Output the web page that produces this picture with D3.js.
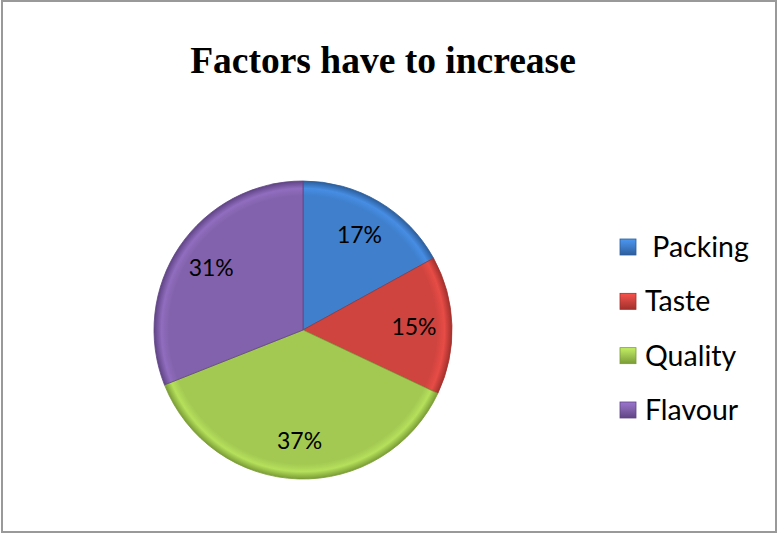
<html>
<head>
<meta charset='UTF-8'>
<script src="https://d3js.org/d3.v7.min.js"></script>
<style>
  body { margin: 0; background: #fff; }
</style>
</head>
<body>
<svg id="chart" width="778" height="535"></svg>
<script>
// chart data
const categories = ['Packing', 'Taste', 'Quality', 'Flavour'];
const values = [17, 15, 37, 31];
const legendLabels = [' Packing', 'Taste', 'Quality', 'Flavour'];
const colors = ['#3f7fcc', '#d0443f', '#a3c952', '#8262ac'];
const darkColors = ['#2c5e9c', '#a2302c', '#7a9c35', '#5f4485'];

const svg = d3.select('svg#chart');

// outer frame
svg.append('rect')
  .attr('x', 2).attr('y', 1).attr('width', 774).attr('height', 531)
  .style('fill', '#fff').style('stroke', '#999').style('stroke-width', 2);

// title
svg.append('text')
  .attr('x', 383).attr('y', 73)
  .attr('text-anchor', 'middle')
  .style('font-family', '"Liberation Serif", "Times New Roman", serif')
  .style('font-weight', 'bold')
  .style('font-size', '37.5px')
  .text('Factors have to increase');

// gradients for the bevelled look
const cx = 303, cy = 330, radius = 149;
const defs = svg.append('defs');
colors.forEach((c, i) => {
  let g = defs.append('radialGradient')
    .attr('id', 'grad' + i)
    .attr('gradientUnits', 'userSpaceOnUse')
    .attr('cx', 0).attr('cy', 0).attr('r', radius);
  g.append('stop').attr('offset', '0%').attr('stop-color', c);
  g.append('stop').attr('offset', '90%').attr('stop-color', c);
  g.append('stop').attr('offset', '95%').attr('stop-color', d3.color(c).brighter(0.3));
  g.append('stop').attr('offset', '100%').attr('stop-color', darkColors[i]);

  let lg = defs.append('linearGradient')
    .attr('id', 'leg' + i)
    .attr('x1', 0).attr('y1', 0).attr('x2', 0).attr('y2', 1);
  lg.append('stop').attr('offset', '0%').attr('stop-color', d3.color(c).brighter(0.5));
  lg.append('stop').attr('offset', '45%').attr('stop-color', c);
  lg.append('stop').attr('offset', '100%').attr('stop-color', darkColors[i]);
});

// pie
const pie = d3.pie().sort(null).value(d => d)(values);
const arc = d3.arc().innerRadius(0).outerRadius(radius);
const labelArc = d3.arc().innerRadius(111).outerRadius(111);

let g = svg.append('g').attr('transform', `translate(${cx},${cy})`);

g.selectAll('path')
  .data(pie)
  .join('path')
  .attr('d', arc)
  .style('fill', (d, i) => `url(#grad${i})`)
  .style('stroke', (d, i) => darkColors[i])
  .style('stroke-width', 0.8);

g.selectAll('text')
  .data(pie)
  .join('text')
  .attr('transform', d => `translate(${labelArc.centroid(d)})`)
  .attr('text-anchor', 'middle')
  .attr('dy', '0.35em')
  .style('font-family', 'Lato, "Open Sans", sans-serif')
  .style('font-size', '23px')
  .text(d => d.data + '%');

// legend
const legendY = d3.scalePoint().domain(categories).range([247, 410]);
let lg = svg.append('g');
categories.forEach((c, i) => {
  let y = legendY(c);
  lg.append('rect')
    .attr('x', 620).attr('y', y - 8)
    .attr('width', 16).attr('height', 16)
    .style('fill', `url(#leg${i})`)
    .style('stroke', darkColors[i]).style('stroke-width', 0.8);
  lg.append('text')
    .attr('x', 645).attr('y', y)
    .attr('dy', '0.35em')
    .style('font-family', 'Lato, "Open Sans", sans-serif')
    .style('font-size', '28.5px')
    .style('white-space', 'pre')
    .text(legendLabels[i]);
});
</script>
</body>
</html>
